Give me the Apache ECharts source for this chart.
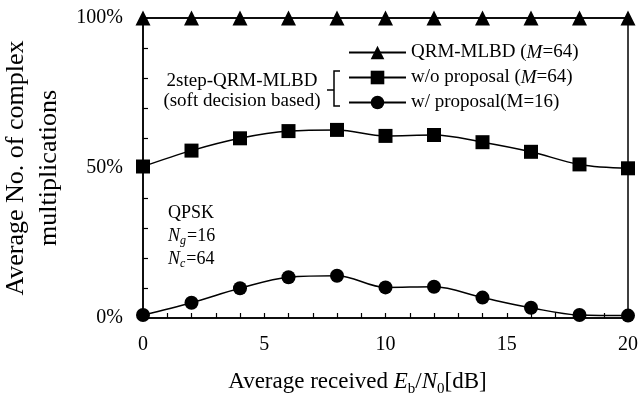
<!DOCTYPE html>
<html>
<head>
<meta charset="utf-8">
<script src="https://cdn.jsdelivr.net/npm/echarts@6/dist/echarts.min.js"></script>
<style>
html, body { margin: 0; padding: 0; background: #fff; }
#chart { width: 638px; height: 408px; }
</style>
</head>
<body>
<div id="chart"></div>
<script>
var snr = [0, 2, 4, 6, 8, 10, 12, 14, 16, 18, 20];
var qrmFull = [100, 100, 100, 100, 100, 100, 100, 100, 100, 100, 100];
var woProposal = [50.5, 55.8, 59.9, 62.3, 62.7, 60.7, 61.0, 58.6, 55.4, 51.2, 49.9];
var wProposal = [1.0, 5.1, 9.9, 13.6, 14.1, 10.2, 10.4, 6.8, 3.4, 1.0, 0.8];
var seriesNames = ['QRM-MLBD (M=64)', 'w/o proposal (M=64)', 'w/ proposal (M=16)'];

var serif = '"Liberation Serif", "DejaVu Serif", serif';

function pairs(ys) {
    var out = [];
    for (var i = 0; i < snr.length; i++) {
        out.push([snr[i], ys[i]]);
    }
    return out;
}

function lineSeries(name, ys, symbol, size) {
    return {
        name: name,
        type: 'line',
        smooth: 0.35,
        symbol: symbol,
        symbolSize: size,
        clip: false,
        lineStyle: { color: '#000', width: 1.5 },
        itemStyle: { color: '#000' },
        data: pairs(ys)
    };
}

var legendText = {
    'QRM-MLBD (M=64)': '{n|QRM-MLBD (}{i|M}{n|=64)}',
    'w/o proposal (M=64)': '{n|w/o proposal (}{i|M}{n|=64)}',
    'w/ proposal (M=16)': '{n|w/ proposal(M=16)}'
};

var option = {
    animation: false,
    backgroundColor: '#fff',
    textStyle: { fontFamily: serif, color: '#000' },
    grid: {
        left: 143, right: 10, top: 18, bottom: 90,
        outerBoundsMode: 'none',
        containLabel: false,
        show: true, borderColor: '#000', borderWidth: 1.5
    },
    legend: {
        orient: 'vertical',
        left: 343,
        top: 38,
        itemWidth: 57,
        itemHeight: 17,
        itemGap: 6,
        itemTextGap: 7,
        data: seriesNames,
        formatter: function (name) { return legendText[name]; },
        textStyle: {
            fontFamily: serif,
            fontSize: 19,
            color: '#000',
            rich: {
                n: { fontFamily: serif, fontSize: 19, color: '#000' },
                i: { fontFamily: serif, fontSize: 19, fontStyle: 'italic', color: '#000' }
            }
        }
    },
    xAxis: {
        type: 'value',
        min: 0,
        max: 20,
        interval: 1,
        name: '{n|Average received }{i|E}{s|b}{n|/}{i|N}{s|0}{n|[dB]}',
        nameLocation: 'middle',
        nameGap: 52,
        nameTextStyle: {
            padding: [0, 56, 0, 0],
            rich: {
                n: { fontFamily: serif, fontSize: 23, color: '#000', verticalAlign: 'bottom' },
                i: { fontFamily: serif, fontSize: 23, fontStyle: 'italic', color: '#000', verticalAlign: 'bottom' },
                s: { fontFamily: serif, fontSize: 15, color: '#000', verticalAlign: 'bottom', padding: [0, 0, -4, 0] }
            }
        },
        axisLine: { lineStyle: { color: '#000', width: 1.5 } },
        axisTick: { inside: true, length: 5, lineStyle: { color: '#000', width: 1.2 } },
        axisLabel: {
            fontFamily: serif,
            fontSize: 20,
            color: '#000',
            margin: 17,
            formatter: function (v) { return v % 5 === 0 ? String(v) : ''; }
        },
        splitLine: { show: false }
    },
    yAxis: {
        type: 'value',
        min: 0,
        max: 100,
        interval: 10,
        name: 'Average No. of complex\nmultiplications',
        nameLocation: 'middle',
        nameRotate: 90,
        nameGap: 65,
        nameTextStyle: { fontFamily: serif, fontSize: 26, color: '#000', lineHeight: 33 },
        axisLine: { lineStyle: { color: '#000', width: 1.5 } },
        axisTick: { inside: true, length: 5, lineStyle: { color: '#000', width: 1.2 } },
        axisLabel: {
            fontFamily: serif,
            fontSize: 20,
            color: '#000',
            margin: 20,
            formatter: function (v) { return v % 50 === 0 ? v + '%' : ''; }
        },
        splitLine: { show: false }
    },
    graphic: [
        {
            type: 'polyline',
            shape: { points: [[340, 71], [334, 71], [334, 106], [340, 106]] },
            style: { stroke: '#000', lineWidth: 1.5, fill: null }
        },
        {
            type: 'line',
            shape: { x1: 327, y1: 90, x2: 334, y2: 90 },
            style: { stroke: '#000', lineWidth: 1.5 }
        },
        {
            type: 'text',
            x: 242,
            y: 81,
            style: {
                text: '2step-QRM-MLBD', font: '19px ' + serif, fill: '#000',
                align: 'center', verticalAlign: 'middle'
            }
        },
        {
            type: 'text',
            x: 242,
            y: 101,
            style: {
                text: '(soft decision based)', font: '19px ' + serif, fill: '#000',
                align: 'center', verticalAlign: 'middle'
            }
        },
        {
            type: 'text',
            left: 168,
            top: 199,
            style: {
                text: '{n|QPSK}\n{i|N}{s|g}{n|=16}\n{i|N}{s|c}{n|=64}',
                lineHeight: 23,
                rich: {
                    n: { fontFamily: serif, fontSize: 18, fill: '#000', lineHeight: 23, verticalAlign: 'bottom' },
                    i: { fontFamily: serif, fontSize: 18, fontStyle: 'italic', fill: '#000', lineHeight: 23, verticalAlign: 'bottom' },
                    s: { fontFamily: serif, fontSize: 12, fontStyle: 'italic', fill: '#000', lineHeight: 23, verticalAlign: 'bottom', padding: [0, 1, -2, 0] }
                }
            }
        }
    ],
    series: [
        lineSeries(seriesNames[0], qrmFull, 'triangle', 15),
        lineSeries(seriesNames[1], woProposal, 'rect', 14),
        lineSeries(seriesNames[2], wProposal, 'circle', 14)
    ]
};

var chart = echarts.init(document.getElementById('chart'));
chart.setOption(option);
</script>
</body>
</html>
